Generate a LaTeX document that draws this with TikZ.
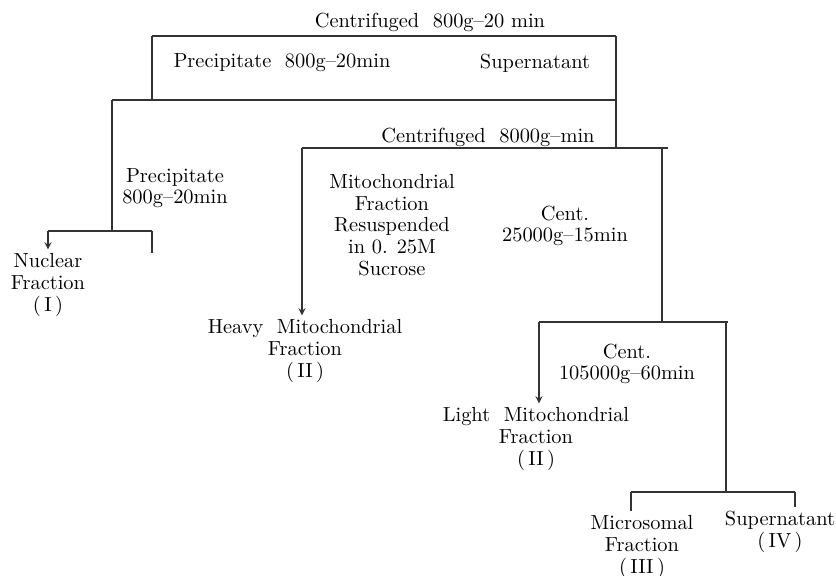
\documentclass[tikz,border=0pt]{standalone}
\usepackage{tikz}
\tikzset{
	txt/.style={align=center,inner sep=0pt,font=\fontsize{10.2}{10.8}\selectfont},
	branch/.style={semithick,draw=black!80},
	pick/.style={semithick,draw=black!80,->,shorten >=2pt},
	>=stealth,
	}

\begin{document}
\begin{tikzpicture}[x=0.5pt,y=-0.5pt]
\useasboundingbox (0,0) rectangle (836,576);

\node[txt] (cent1) at (430,22) {Centrifuged\ \ 800g--20 min};
\node[txt] (prec1) at (282,63) {Precipitate\ \ 800g--20min};
\node[txt] (sup1) at (535,63) {Supernatant};
\node[txt] (cent2) at (488,137) {Centrifuged\ \ 8000g--min};
\node[txt] (prec2) at (175,188) {Precipitate\\800g--20min};
\node[txt] (nuc) at (48,285) {Nuclear\\Fraction\\(\,I\,)};
\node[txt] (mito) at (392,225) {Mitochondrial\\Fraction\\Resuspended\\in\ 0. 25M\\Sucrose};
\node[txt] (cent3) at (565,226) {Cent.\\25000g--15min};
\node[txt] (heavy) at (305,351) {Heavy\ \ Mitochondrial\\Fraction\\(\,II\,)};
\node[txt] (cent4) at (627,364) {Cent.\\105000g--60min};
\node[txt] (light) at (536,439) {Light\ \ Mitochondrial\\Fraction\\(\,II\,)};
\node[txt] (micro) at (642,547) {Microsomal\\Fraction\\(\,III\,)};
\node[txt] (sup2) at (780,532) {Supernatant\\(\,IV\,)};

\coordinate (boxtl) at (152,36);
\coordinate (boxtr) at (616,36);
\coordinate (boxbl) at (152,100);
\coordinate (split1l) at (112,100);
\coordinate (split1r) at (616,100);
\coordinate (pre1) at (112,231);
\coordinate (nucl) at (48,231);
\coordinate (nucr) at (152,231);
\coordinate (nucend) at (152,253);
\coordinate (join2) at (616,148);
\coordinate (split2l) at (302,148);
\coordinate (split2r) at (662,148);
\coordinate (split2e) at (668,148);
\coordinate (split3) at (662,322);
\coordinate (split3l) at (539,322);
\coordinate (split3r) at (728,322);
\coordinate (split3d) at (726,322);
\coordinate (split4) at (726,492);
\coordinate (split4l) at (631,492);
\coordinate (split4r) at (795,492);

% first spin
\draw[branch] (boxtl) -- (boxtr);
\draw[branch] (boxtl) -- (boxbl);
\draw[branch] (boxtr) -- (join2);
\draw[branch] (split1l) -- (split1r);
\draw[branch] (split1l) -- (pre1);
\draw[branch] (nucl) -- (nucr);
\draw[pick] (nucl) -- (nuc);
\draw[branch] (nucr) -- (nucend);

% second spin
\draw[branch] (split2l) -- (split2e);
\draw[pick] (split2l) -- (split2l |- heavy.north);
\draw[branch] (split2r) -- (split3);

% third spin
\draw[branch] (split3l) -- (split3r);
\draw[pick] (split3l) -- (split3l |- light.north);
\draw[branch] (split3d) -- (split4);

% fourth spin
\draw[branch] (split4l) -- (split4r);
\draw[branch,shorten >=2pt] (split4l) -- (split4l |- micro.north);
\draw[branch,shorten >=2pt] (split4r) -- (split4r |- sup2.north);
\end{tikzpicture}
\end{document}
